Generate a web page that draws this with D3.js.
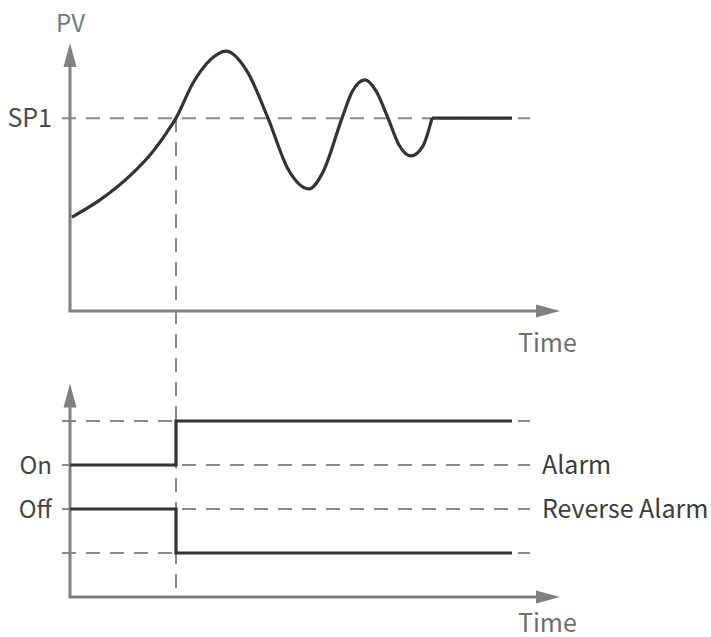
<!DOCTYPE html>
<html>
<head>
<meta charset="utf-8">
<script src="https://cdn.jsdelivr.net/npm/d3@7"></script>
<style>
  html, body { margin: 0; padding: 0; background: #ffffff; }
  svg { display: block; }
  text { font-family: "Noto Sans CJK SC", "Noto Sans", sans-serif; }
</style>
</head>
<body>
<svg id="chart" width="711" height="637"></svg>
<script>
// ---------------- DATA ----------------
// PV response curve (time units, PV units; SP1 = 100)
const pvTime  = [0.2, 3.0, 6.3, 8.0, 9.7, 10.6, 12.3, 14.0, 15.6, 17.7, 19.8, 21.8, 23.9, 25.3, 27.2, 28.2, 29.5, 30.6, 31.8, 32.9, 34.1, 35.3, 36.2];
const pvValue = [48.7, 57.6, 71.6, 80.9, 92.8, 100, 118.2, 130.1, 134.8, 124.4, 100, 73.6, 63.3, 72.1, 100, 113.6, 119.8, 114.1, 100, 86.1, 80.4, 85.6, 100];
const settleTime = [36.2, 44.2];
const settleValue = [100, 100];
const sp1 = 100;
const crossTime = 10.6;

// Output states (levels on lower chart)
const levelValues = [1, 2, 3, 4];
const alarmTime  = [0, 10.6, 44.2];
const alarmLevel = [3, 4, 4];
const revTime    = [0, 10.6, 44.2];
const revLevel   = [2, 1, 1];

const leftLabels  = [{ text: "On", level: 3 }, { text: "Off", level: 2 }];
const rightLabels = [{ text: "Alarm", level: 3 }, { text: "Reverse Alarm", level: 2 }];

// ---------------- LAYOUT ----------------
const svg = d3.select("#chart");
const x = d3.scaleLinear().domain([0, 49]).range([70, 560]);
const yTop = d3.scaleLinear().domain([0, 140]).range([311, 41]);
const yBot = d3.scaleLinear().domain([0, 5]).range([597, 377]);

const axisColor = "#808080";
const dashColor = "#8a8a8a";
const lineColor = "#333333";
const dash = "14,10";

function arrowUp(cx, tipY) {
  return `M${cx},${tipY} L${cx - 6.5},${tipY + 24} L${cx + 6.5},${tipY + 24} Z`;
}
function arrowRight(tipX, cy) {
  return `M${tipX},${cy} L${tipX - 24},${cy - 6.5} L${tipX - 24},${cy + 6.5} Z`;
}

// ---------- TOP CHART ----------
svg.append("line")
  .attr("x1", x(-0.8)).attr("x2", x(46))
  .attr("y1", yTop(sp1)).attr("y2", yTop(sp1))
  .attr("stroke", dashColor).attr("stroke-width", 2).attr("stroke-dasharray", dash);

svg.append("line")
  .attr("x1", x(crossTime)).attr("x2", x(crossTime))
  .attr("y1", yTop(sp1)).attr("y2", yBot(0.12))
  .attr("stroke", dashColor).attr("stroke-width", 2).attr("stroke-dasharray", dash);

svg.append("line").attr("x1", x(0)).attr("x2", x(0)).attr("y1", yTop(0)).attr("y2", yTop(134))
  .attr("stroke", axisColor).attr("stroke-width", 3);
svg.append("line").attr("x1", x(0) - 1.5).attr("x2", x(47)).attr("y1", yTop(0)).attr("y2", yTop(0))
  .attr("stroke", axisColor).attr("stroke-width", 3);
svg.append("path").attr("d", arrowUp(x(0), yTop(139))).attr("fill", axisColor);
svg.append("path").attr("d", arrowRight(x(49), yTop(0))).attr("fill", axisColor);

const pvData = pvTime.map((t, i) => ({ t, v: pvValue[i] }));
svg.append("path")
  .attr("d", d3.line().x(d => x(d.t)).y(d => yTop(d.v)).curve(d3.curveMonotoneX)(pvData))
  .attr("fill", "none").attr("stroke", lineColor).attr("stroke-width", 3.2)
  .attr("stroke-linejoin", "round");
const settleData = settleTime.map((t, i) => ({ t, v: settleValue[i] }));
svg.append("path")
  .attr("d", d3.line().x(d => x(d.t)).y(d => yTop(d.v))(settleData))
  .attr("fill", "none").attr("stroke", lineColor).attr("stroke-width", 3.2);

svg.append("text").attr("x", 56).attr("y", 32).attr("font-size", 24)
  .attr("fill", "#6f7780").text("PV");
svg.append("text").attr("x", 52).attr("y", yTop(sp1)).attr("dy", "0.36em")
  .attr("text-anchor", "end").attr("font-size", 25).attr("fill", "#4a4a4a").text("SP1");
svg.append("text").attr("x", 518).attr("y", 352).attr("font-size", 25)
  .attr("fill", "#6e6e6e").text("Time");

// ---------- BOTTOM CHART ----------
svg.selectAll(".lvl").data(levelValues).enter().append("line")
  .attr("x1", x(-0.8)).attr("x2", x(46))
  .attr("y1", d => yBot(d)).attr("y2", d => yBot(d))
  .attr("stroke", dashColor).attr("stroke-width", 2).attr("stroke-dasharray", dash);

svg.append("line").attr("x1", x(0)).attr("x2", x(0)).attr("y1", yBot(0)).attr("y2", yBot(4.6))
  .attr("stroke", axisColor).attr("stroke-width", 3);
svg.append("line").attr("x1", x(0) - 1.5).attr("x2", x(47)).attr("y1", yBot(0)).attr("y2", yBot(0))
  .attr("stroke", axisColor).attr("stroke-width", 3);
svg.append("path").attr("d", arrowUp(x(0), yBot(4.85))).attr("fill", axisColor);
svg.append("path").attr("d", arrowRight(x(49), yBot(0))).attr("fill", axisColor);

const stepLine = d3.line().x(d => x(d.t)).y(d => yBot(d.v)).curve(d3.curveStepAfter);
const alarmData = alarmTime.map((t, i) => ({ t, v: alarmLevel[i] }));
const revData = revTime.map((t, i) => ({ t, v: revLevel[i] }));
[alarmData, revData].forEach(dat => {
  svg.append("path").attr("d", stepLine(dat))
    .attr("fill", "none").attr("stroke", lineColor).attr("stroke-width", 3.2)
    .attr("stroke-linejoin", "miter");
});

svg.selectAll(".ll").data(leftLabels).enter().append("text")
  .attr("x", 52).attr("y", d => yBot(d.level)).attr("dy", "0.36em")
  .attr("text-anchor", "end").attr("font-size", 24).attr("fill", "#444")
  .text(d => d.text);
svg.selectAll(".rl").data(rightLabels).enter().append("text")
  .attr("x", 542).attr("y", d => yBot(d.level)).attr("dy", "0.36em")
  .attr("font-size", 25).attr("fill", "#3c3c3c")
  .text(d => d.text);
svg.append("text").attr("x", 518).attr("y", 632).attr("font-size", 25)
  .attr("fill", "#6e6e6e").text("Time");
</script>
</body>
</html>
